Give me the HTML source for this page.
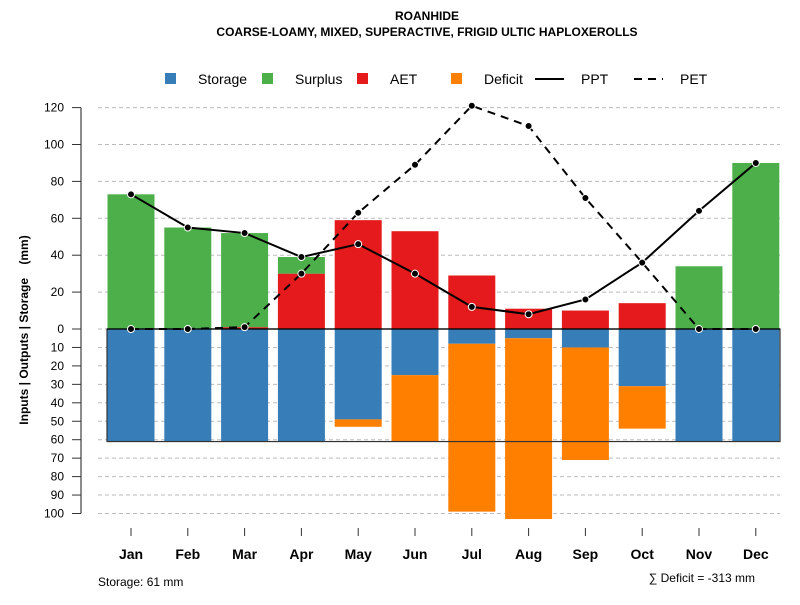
<!DOCTYPE html>
<html><head><meta charset="utf-8"><style>body{margin:0;background:#fff}svg{font-family:"Liberation Sans",sans-serif}</style></head>
<body>
<svg id="c" width="800" height="600"></svg>
<script>
const months=["Jan","Feb","Mar","Apr","May","Jun","Jul","Aug","Sep","Oct","Nov","Dec"];
const storage=[61,61,61,61,49,25,8,5,10,31,61,61];
const deficit=[0,0,0,0,4,36,91,98,61,23,0,0];
const aet=[0,0,1,30,59,53,29,11,10,14,0,0];
const surplus=[73,55,51,9,0,0,0,0,0,0,34,90];
const ppt=[73,55,52,39,46,30,12,8,16,36,64,90];
const pet=[0,0,1,30,63,89,121,110,71,36,0,0];
const upTicks=[0,20,40,60,80,100,120];
const downTicks=[10,20,30,40,50,60,70,80,90,100];
const NS="http://www.w3.org/2000/svg",svg=document.getElementById('c');
function el(t,a,txt){const e=document.createElementNS(NS,t);for(const k in a)e.setAttribute(k,a[k]);if(txt!=null)e.textContent=txt;svg.appendChild(e);return e;}
const y0=329,k=1.845;
const yUp=v=>y0-v*k, yDn=v=>y0+v*k;
const xm=i=>131+i*56.8, bw=47;
let e;
e=el('text',{x:427,y:20,'text-anchor':'middle','font-size':12,'font-weight':'bold'},'ROANHIDE');

e=el('text',{x:427,y:36,'text-anchor':'middle','font-size':12,'font-weight':'bold'},'COARSE-LOAMY, MIXED, SUPERACTIVE, FRIGID ULTIC HAPLOXEROLLS');

upTicks.forEach(v=>{e=el('line',{x1:98,x2:780,y1:yUp(v),y2:yUp(v),stroke:'#bbb','stroke-dasharray':'4,3'});
});
downTicks.forEach(v=>{e=el('line',{x1:98,x2:780,y1:yDn(v),y2:yDn(v),stroke:'#bbb','stroke-dasharray':'4,3'});
});
months.forEach((m,i)=>{const x=xm(i)-bw/2;
 e=el('rect',{x,y:y0,width:bw,height:storage[i]*k,fill:'#377eb8'});
 
 if(deficit[i]>0){e=el('rect',{x,y:yDn(storage[i]),width:bw,height:deficit[i]*k,fill:'#ff7f00'});
 }
 if(aet[i]>0){e=el('rect',{x,y:yUp(aet[i]),width:bw,height:aet[i]*k,fill:'#e41a1c'});
 }
 if(surplus[i]>0){e=el('rect',{x,y:yUp(aet[i]+surplus[i]),width:bw,height:surplus[i]*k,fill:'#4daf4a'});
 }
});
e=el('rect',{x:107,y:y0,width:673,height:61*k,fill:'none',stroke:'#333','stroke-width':1.2});

e=el('line',{x1:107,x2:780,y1:y0,y2:y0,stroke:'#000','stroke-width':1.2});

const pts=a=>a.map((v,i)=>xm(i)+','+yUp(v)).join(' ');
e=el('polyline',{points:pts(pet),fill:'none',stroke:'#000','stroke-width':2,'stroke-dasharray':'8,6'});

e=el('polyline',{points:pts(ppt),fill:'none',stroke:'#000','stroke-width':2});

[pet,ppt].forEach((a,j)=>a.forEach((v,i)=>{e=el('circle',{cx:xm(i),cy:yUp(v),r:3.5,fill:'#000',stroke:'#fff','stroke-width':1});
 }));
e=el('line',{x1:81,x2:81,y1:yUp(120),y2:yDn(100),stroke:'#666','stroke-width':1.5});

upTicks.forEach(v=>{e=el('line',{x1:72,x2:81,y1:yUp(v),y2:yUp(v),stroke:'#333'});
 
 e=el('text',{x:64,y:yUp(v)+4,'text-anchor':'end','font-size':12},v);
 });
downTicks.forEach(v=>{e=el('line',{x1:72,x2:81,y1:yDn(v),y2:yDn(v),stroke:'#333'});
 
 e=el('text',{x:64,y:yDn(v)+4,'text-anchor':'end','font-size':12},v);
 });
e=el('text',{x:28,y:330,'text-anchor':'middle','font-size':12,'font-weight':'bold',transform:'rotate(-90 28 330)','xml:space':'preserve',style:'white-space:pre'},'Inputs | Outputs | Storage    (mm)');

months.forEach((m,i)=>{e=el('line',{x1:xm(i),x2:xm(i),y1:528,y2:536,stroke:'#333'});
 
 e=el('text',{x:xm(i),y:559,'text-anchor':'middle','font-size':14,'font-weight':'bold'},m);
 });
const leg=[["Storage","#377eb8",165,'r'],["Surplus","#4daf4a",262,'r'],["AET","#e41a1c",357,'r'],["Deficit","#ff7f00",451,'r'],["PPT",null,537,'s'],["PET",null,636,'d']];
leg.forEach(([n,c,x,t])=>{
 if(t==='r'){e=el('rect',{x:x,y:73,width:11,height:11,fill:c});}
 else{e=el('line',{x1:x-2,x2:x+27,y1:79,y2:79,stroke:'#000','stroke-width':2,'stroke-dasharray':t==='d'?'8,6':'none'});}
 
 e=el('text',{x:t==='r'?x+33:x+44,y:84,'font-size':14},n);
 
});
e=el('text',{x:98,y:586,'font-size':12},'Storage: 61 mm');

e=el('text',{x:755,y:582,'text-anchor':'end','font-size':12},'∑ Deficit = -313 mm');

</script>
</body></html>
